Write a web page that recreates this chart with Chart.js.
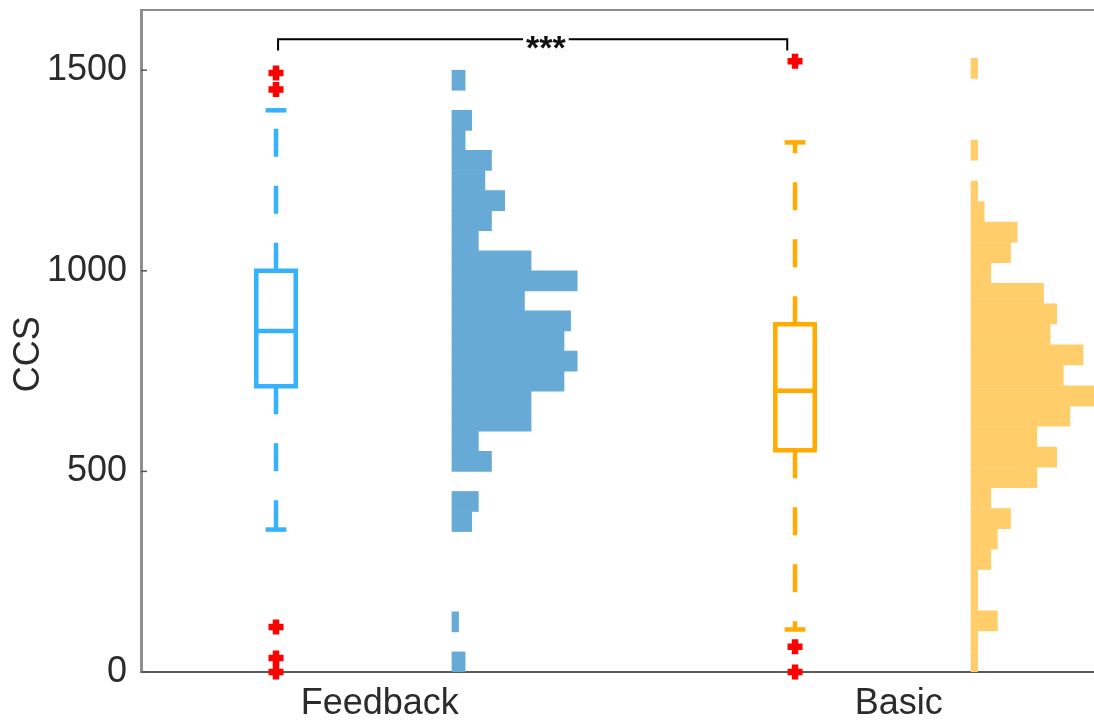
<!DOCTYPE html>
<html>
<head>
<meta charset="utf-8">
<script src="https://cdn.jsdelivr.net/npm/chart.js@4.4.1/dist/chart.umd.min.js"></script>
<style>
html, body { margin: 0; padding: 0; background: #fff; }
#wrap { width: 1094px; height: 722px; }
</style>
</head>
<body>
<div id="wrap"><canvas id="ccsChart"></canvas></div>
<script>
const groups = ['Feedback', 'Basic'];

// Boxplot-Kennwerte je Gruppe
const q1Values = [712, 553];
const medianValues = [850, 701];
const q3Values = [1000, 867];
const whiskerLow = [355, 106];
const whiskerHigh = [1400, 1320];
const outliersFeedback = [0, 35, 112, 1452, 1493];
const outliersBasic = [0, 63, 1522];

// Histogramme (Anzahl je Klasse, ab 0 aufwärts)
const binWidths = [50, 51];
const countsFeedback = [2, 0, 1, 0, 0, 0, 0, 3, 4, 0, 6, 4, 12, 12, 17, 19, 17, 18, 11, 19, 12, 4, 6, 8, 5, 6, 2, 3, 0, 2];
const countsBasic = [1, 1, 4, 1, 1, 3, 4, 6, 3, 10, 13, 10, 15, 19, 14, 17, 12, 13, 11, 3, 6, 7, 2, 1, 0, 1, 0, 0, 0, 1];

const yTicks = [0, 500, 1000, 1500];
const yTitle = 'CCS';
const sigLabel = '***';

// Layout
const boxColors = ['#36b2fd', '#ffab00'];
const histColors = ['#68aad6', '#ffcd69'];
const textColor = '#2b2b2b';
const boxOffset = -0.2;
const histOffset = 0.139;
const boxHalf = 0.038;
const capHalf = 0.02;
const countUnit = 0.0127;
const bracket = { left: 0.804, right: 1.785, top: 1577, foot: 1549, textX: 1.32 };

function lineSet(points, color, dash)
{
    return {
        type: 'line',
        indexAxis: 'x',
        data: points,
        borderColor: color,
        borderWidth: 4.5,
        borderDash: dash || [],
        borderCapStyle: 'butt',
        borderJoinStyle: 'miter',
        pointRadius: 0,
        showLine: true,
        fill: false,
        tension: 0,
    };
}

function boxDatasets(g, outliers)
{
    const c = g + 1 + boxOffset;
    const color = boxColors[g];
    const dash = [28, 29];
    return [
        lineSet([
            { x: c - boxHalf, y: q1Values[g] }, { x: c - boxHalf, y: q3Values[g] },
            { x: c + boxHalf, y: q3Values[g] }, { x: c + boxHalf, y: q1Values[g] },
            { x: c - boxHalf, y: q1Values[g] }, { x: c - boxHalf, y: q3Values[g] },
        ], color),
        lineSet([{ x: c - boxHalf, y: medianValues[g] }, { x: c + boxHalf, y: medianValues[g] }], color),
        lineSet([{ x: c, y: q3Values[g] }, { x: c, y: whiskerHigh[g] }], color, dash),
        lineSet([{ x: c, y: q1Values[g] }, { x: c, y: whiskerLow[g] }], color, dash),
        lineSet([{ x: c - capHalf, y: whiskerHigh[g] }, { x: c + capHalf, y: whiskerHigh[g] }], color),
        lineSet([{ x: c - capHalf, y: whiskerLow[g] }, { x: c + capHalf, y: whiskerLow[g] }], color),
        {
            type: 'line',
            indexAxis: 'x',
            data: outliers.map(v => ({ x: c, y: v })),
            showLine: false,
            pointStyle: 'cross',
            pointRadius: 7.5,
            pointBorderWidth: 6.5,
            pointBorderColor: '#ff0000',
            pointBackgroundColor: '#ff0000',
            clip: false,
        },
    ];
}

function histDataset(g, counts, axisId)
{
    const base = g + 1 + histOffset;
    const bw = binWidths[g];
    const data = [];
    counts.forEach((n, i) =>
    {
        if (n > 0)
        {
            data.push({ y: (i + 0.5) * bw, x: [base, base + n * countUnit] });
        }
    });
    return {
        type: 'bar',
        indexAxis: 'y',
        xAxisID: 'x',
        yAxisID: axisId,
        data: data,
        backgroundColor: histColors[g],
        borderWidth: 0,
        barPercentage: 1,
        categoryPercentage: 1,
    };
}

const decorations = {
    id: 'decorations',
    afterDraw(chart)
    {
        const { ctx, chartArea, scales } = chart;
        ctx.save();

        // Rahmen oben
        ctx.strokeStyle = '#8a8a8a';
        ctx.lineWidth = 2;
        ctx.beginPath();
        ctx.moveTo(chartArea.left, chartArea.top);
        ctx.lineTo(chartArea.right, chartArea.top);
        ctx.stroke();

        // Ticks nach innen
        ctx.strokeStyle = '#555';
        ctx.lineWidth = 1.5;
        scales.y.ticks.forEach(t =>
        {
            const py = scales.y.getPixelForValue(t.value);
            ctx.beginPath();
            ctx.moveTo(chartArea.left, py);
            ctx.lineTo(chartArea.left + 6, py);
            ctx.stroke();
        });

        // Signifikanz-Text
        ctx.font = 'bold 34px "Liberation Sans", Arial, sans-serif';
        const tx = scales.x.getPixelForValue(bracket.textX);
        const ty = scales.y.getPixelForValue(bracket.top);
        const tw = ctx.measureText(sigLabel).width;
        ctx.fillStyle = '#fff';
        ctx.fillRect(tx - tw / 2 - 3, ty - 4, tw + 6, 8);
        ctx.fillStyle = '#111';
        ctx.textAlign = 'center';
        ctx.textBaseline = 'alphabetic';
        ctx.fillText(sigLabel, tx, ty + 20);

        // Achsentitel
        ctx.font = '36px "Liberation Sans", Arial, sans-serif';
        ctx.fillStyle = textColor;
        ctx.translate(29, chartArea.bottom - 0.48 * (chartArea.bottom - chartArea.top));
        ctx.rotate(-Math.PI / 2);
        ctx.textBaseline = 'middle';
        ctx.fillText(yTitle, 0, 0);

        ctx.restore();
    }
};

const datasets = [
    ...boxDatasets(0, outliersFeedback),
    ...boxDatasets(1, outliersBasic),
    histDataset(0, countsFeedback, 'y'),
    histDataset(1, countsBasic, 'yB'),
    {
        type: 'line',
        indexAxis: 'x',
        data: [
            { x: bracket.left, y: bracket.foot }, { x: bracket.left, y: bracket.top },
            { x: bracket.right, y: bracket.top }, { x: bracket.right, y: bracket.foot },
        ],
        borderColor: '#000',
        borderWidth: 2,
        pointRadius: 0,
        showLine: true,
        fill: false,
        tension: 0,
    },
];

const tickFont = { family: '"Liberation Sans", Arial, sans-serif', size: 36 };

new Chart(document.getElementById('ccsChart').getContext('2d'), {
    type: 'line',
    data: { datasets: datasets },
    options: {
        responsive: true,
        maintainAspectRatio: false,
        animation: false,
        events: [],
        layout: { autoPadding: false, padding: { top: 10, right: 0, left: 0, bottom: 0 } },
        plugins: {
            legend: { display: false },
            tooltip: { enabled: false },
        },
        scales: {
            x: {
                type: 'linear',
                min: 0.5399,
                max: 2.376,
                offset: false,
                grid: { display: false, drawTicks: false, offset: false },
                border: { display: true, color: '#5a5a5a', width: 2 },
                afterBuildTicks: scale => { scale.ticks = groups.map((_, i) => ({ value: i + 1 })); },
                afterFit: scale => { scale.height = 50; scale.paddingLeft = 0; scale.paddingRight = 0; },
                ticks: {
                    font: tickFont,
                    color: textColor,
                    padding: 10,
                    autoSkip: false,
                    maxRotation: 0,
                    callback: (value, index) => groups[index],
                },
            },
            y: {
                type: 'linear',
                min: 0,
                max: 1650,
                offset: false,
                grid: { display: false, drawTicks: false, offset: false },
                border: { display: true, color: '#8f8f8f', width: 3 },
                afterBuildTicks: scale => { scale.ticks = yTicks.map(v => ({ value: v })); },
                afterFit: scale => { scale.width = 141; scale.paddingTop = 0; scale.paddingBottom = 0; },
                ticks: {
                    font: tickFont,
                    color: textColor,
                    padding: 14,
                    callback: value => String(value),
                },
            },
            yB: {
                type: 'linear',
                axis: 'y',
                display: false,
                offset: false,
                min: 0,
                max: 1650,
            },
        },
    },
    plugins: [decorations],
});
</script>
</body>
</html>
